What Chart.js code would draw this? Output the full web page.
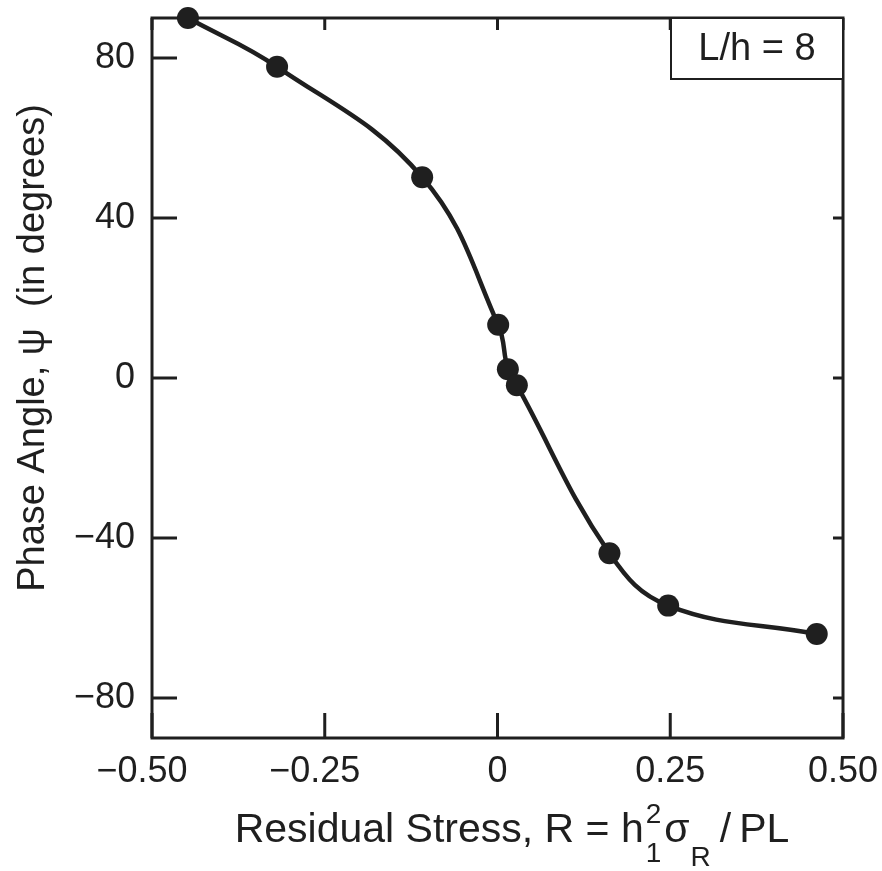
<!DOCTYPE html>
<html>
<head>
<meta charset="utf-8">
<script src="https://cdn.jsdelivr.net/npm/chart.js@4.4.1/dist/chart.umd.min.js"></script>
<style>
  html, body { margin: 0; padding: 0; background: #fff; }
  canvas { display: block; }
</style>
</head>
<body>
<canvas id="phaseChart" width="882" height="871"></canvas>
<script>
// values
const stressValues = [-0.448, -0.319, -0.109, 0.001, 0.015, 0.028, 0.162, 0.247, 0.462];
const phaseAngles  = [90, 77.8, 50.2, 13.3, 2.2, -1.8, -43.8, -56.9, -64];

const xTickValues = [-0.5, -0.25, 0, 0.25, 0.5];
const xTickLabels = ['\u22120.50', '\u22120.25', '0', '0.25', '0.50'];
const yTickValues = [-80, -40, 0, 40, 80];
const yTickLabels = ['\u221280', '\u221240', '0', '40', '80'];

const yTitle = 'Phase Angle, \u03c8  (in degrees)';
const insetLabel = 'L/h = 8';

const ink = '#1f1f1f';
const fontFamily = "'Liberation Sans', Arial, Helvetica, sans-serif";

// frame, inward ticks and the L/h box
const framePlugin = {
    id: 'frame',
    beforeDatasetsDraw(chart) {
        const { ctx, chartArea, scales } = chart;
        const { left, right, top, bottom } = chartArea;
        ctx.save();
        ctx.strokeStyle = ink;
        ctx.lineWidth = 3;
        ctx.strokeRect(left, top, right - left, bottom - top);

        ctx.beginPath();
        xTickValues.forEach(v => {
            const px = scales.x.getPixelForValue(v);
            ctx.moveTo(px, bottom);
            ctx.lineTo(px, bottom - 25);
            ctx.moveTo(px, top);
            ctx.lineTo(px, top + 12);
        });
        yTickValues.forEach(v => {
            const py = scales.y.getPixelForValue(v);
            ctx.moveTo(left, py);
            ctx.lineTo(left + 25, py);
            ctx.moveTo(right, py);
            ctx.lineTo(right - 10, py);
        });
        ctx.stroke();

        // inset box, top right
        const boxW = 172, boxH = 61;
        ctx.fillStyle = '#fff';
        ctx.fillRect(right - boxW, top, boxW, boxH);
        ctx.lineWidth = 2;
        ctx.strokeRect(right - boxW, top, boxW, boxH);
        ctx.fillStyle = ink;
        ctx.font = '38px ' + fontFamily;
        ctx.textAlign = 'center';
        ctx.textBaseline = 'middle';
        ctx.fillText(insetLabel, right - boxW / 2, top + boxH / 2 + 1);
        ctx.restore();
    },
    afterDraw(chart) {
        const { ctx } = chart;
        ctx.save();
        ctx.fillStyle = ink;

        // y title, rotated
        ctx.translate(44, 348);
        ctx.rotate(-Math.PI / 2);
        ctx.font = '38px ' + fontFamily;
        ctx.textAlign = 'center';
        ctx.textBaseline = 'alphabetic';
        ctx.fillText(yTitle, 0, 0);
        ctx.setTransform(1, 0, 0, 1, 0, 0);

        // x title with sub/superscripts
        const mainFont = '41px ' + fontFamily;
        const smallFont = '28px ' + fontFamily;
        const base = 842;
        const partA = 'Residual Stress, R = h';
        const partC = '\u03c3';
        const partE = 'PL';
        ctx.textAlign = 'left';
        ctx.font = mainFont;
        const wA = ctx.measureText(partA).width;
        const wC = ctx.measureText(partC).width;
        const wE = ctx.measureText(partE).width;
        const wSlash = ctx.measureText('/').width;
        ctx.font = smallFont;
        const wB = Math.max(ctx.measureText('2').width, ctx.measureText('1').width);
        const wD = ctx.measureText('R').width;
        const total = wA + 2 + wB + 3 + wC + 1 + wD + 9 + wSlash + 8 + wE;
        let x = 512 - total / 2;
        ctx.font = mainFont;
        ctx.fillText(partA, x, base);
        x += wA + 2;
        ctx.font = smallFont;
        ctx.fillText('2', x, base - 19);
        ctx.fillText('1', x, base + 20);
        x += wB + 3;
        ctx.font = mainFont;
        ctx.fillText(partC, x, base);
        x += wC + 1;
        ctx.font = smallFont;
        ctx.fillText('R', x, base + 24);
        x += wD + 9;
        ctx.font = mainFont;
        ctx.fillText('/', x, base);
        x += wSlash + 8;
        ctx.fillText(partE, x, base);
        ctx.restore();
    }
};

const points = stressValues.map((s, i) => ({ x: s, y: phaseAngles[i] }));

// keep the plot box fixed: no extra label padding from the scales
function clearPadding(scale) {
    scale.paddingTop = 0;
    scale.paddingBottom = 0;
    scale.paddingLeft = 0;
    scale.paddingRight = 0;
}

new Chart(document.getElementById('phaseChart'), {
    type: 'line',
    data: {
        datasets: [{
            data: points,
            borderColor: ink,
            borderWidth: 4.5,
            backgroundColor: ink,
            pointRadius: 11,
            pointBackgroundColor: ink,
            pointBorderWidth: 0,
            tension: 0.4,
            fill: false,
            clip: false
        }]
    },
    options: {
        responsive: false,
        animation: false,
        layout: { autoPadding: false, padding: { top: 18, right: 39, left: 0, bottom: 0 } },
        plugins: {
            legend: { display: false },
            tooltip: { enabled: false }
        },
        scales: {
            x: {
                type: 'linear',
                min: -0.5,
                max: 0.5,
                grid: { display: false, drawTicks: false },
                border: { display: false },
                afterBuildTicks: scale => { scale.ticks = xTickValues.map(value => ({ value })); },
                afterFit: scale => { scale.height = 133; clearPadding(scale); },
                ticks: {
                    color: ink,
                    padding: 12,
                    maxRotation: 0,
                    font: { family: fontFamily, size: 36 },
                    // minus sign hangs left of the number
                    callback: (value, index) => {
                        const label = xTickLabels[index];
                        return label.startsWith('\u2212') ? label + '\u2007' : label;
                    }
                }
            },
            y: {
                type: 'linear',
                min: -90,
                max: 90,
                grid: { display: false, drawTicks: false },
                border: { display: false },
                afterBuildTicks: scale => { scale.ticks = yTickValues.map(value => ({ value })); },
                afterFit: scale => { scale.width = 152; clearPadding(scale); },
                ticks: {
                    color: ink,
                    padding: 17,
                    font: { family: fontFamily, size: 36 },
                    callback: (value, index) => yTickLabels[index]
                }
            }
        }
    },
    plugins: [framePlugin]
});
</script>
</body>
</html>
